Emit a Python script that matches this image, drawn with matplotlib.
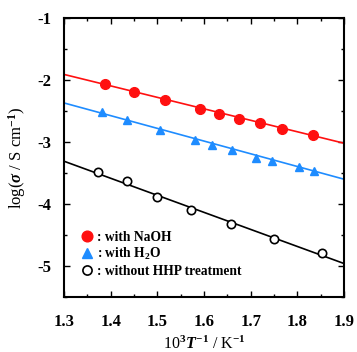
import matplotlib
matplotlib.use("Agg")
import matplotlib.pyplot as plt
from matplotlib.ticker import MultipleLocator

plt.rcParams['font.family'] = 'Liberation Serif'
plt.rcParams['font.weight'] = 'bold'
plt.rcParams['mathtext.fontset'] = 'custom'
plt.rcParams['mathtext.rm'] = 'Liberation Serif:bold'
plt.rcParams['mathtext.it'] = 'Liberation Serif:italic:bold'
plt.rcParams['mathtext.bf'] = 'Liberation Serif:bold'

# data
naoh_x = [1.388, 1.450, 1.517, 1.592, 1.633, 1.675, 1.719, 1.768, 1.833]
naoh_y = [-2.06, -2.19, -2.32, -2.47, -2.55, -2.63, -2.70, -2.79, -2.89]

h2o_x = [1.381, 1.436, 1.506, 1.580, 1.618, 1.661, 1.711, 1.745, 1.804, 1.835]
h2o_y = [-2.51, -2.65, -2.80, -2.96, -3.05, -3.13, -3.25, -3.31, -3.41, -3.46]

none_x = [1.372, 1.435, 1.499, 1.573, 1.657, 1.750, 1.852]
none_y = [-3.49, -3.63, -3.88, -4.10, -4.33, -4.56, -4.79]

# fitted lines (end points at x = 1.3 and 1.9)
fit_x = [1.3, 1.9]
naoh_fit = [-1.91, -3.02]
h2o_fit = [-2.37, -3.60]
none_fit = [-3.31, -4.96]

red = '#ff1010'
blue = '#1e8cff'

fig = plt.figure(figsize=(3.57, 3.52), dpi=100)
ax = fig.add_axes([64 / 357, 55 / 352, 280 / 357, 279 / 352])

ax.plot(fit_x, naoh_fit, color=red, lw=1.2)
ax.plot(fit_x, h2o_fit, color=blue, lw=1.2)
ax.plot(fit_x, none_fit, color='black', lw=1.2)

ax.plot(naoh_x, naoh_y, 'o', color=red, ms=7, label=': with NaOH')
ax.plot(h2o_x, h2o_y, '^', color=blue, ms=6, label=': with H$_2$O')
ax.plot(none_x, none_y, 'o', mfc='white', mec='black', mew=1.2, ms=6,
        label=': without HHP treatment')

ax.set_xlim(1.3, 1.9)
ax.set_ylim(-5.5, -1)
ax.xaxis.set_minor_locator(MultipleLocator(0.05))
ax.yaxis.set_minor_locator(MultipleLocator(0.5))
ax.set_yticks([-1, -2, -3, -4, -5])
ax.set_yticklabels(['-1', '-2', '-3', '-4', '-5'])
ax.set_xticks([1.3, 1.4, 1.5, 1.6, 1.7, 1.8, 1.9])
ax.set_xticklabels(['1.3', '1.4', '1.5', '1.6', '1.7', '1.8', '1.9'])

ax.tick_params(which='both', direction='in', top=True, right=True, width=1.0)
ax.tick_params(which='major', length=4)
ax.tick_params(which='minor', length=2.5)
ax.tick_params(axis='x', which='major', labelsize=12, pad=12)
ax.tick_params(axis='y', which='major', labelsize=12, pad=9)
for s in ax.spines.values():
    s.set_linewidth(1.5)

ax.set_xlabel('10$^3$$T^{-1}$ / K$^{-1}$', fontsize=11.5, labelpad=4)
ax.set_ylabel(r'log($\sigma$ / S cm$^{-1}$)', fontsize=12)
ax.yaxis.set_label_coords(-0.13, 0.5)

ax.legend(loc='lower left', bbox_to_anchor=(0.057, 0.068), frameon=False,
          fontsize=9.75, handlelength=1.0, handletextpad=0.25,
          labelspacing=0.2, borderaxespad=0, borderpad=0, markerscale=1.1)

fig.savefig('out.png', dpi=100)
